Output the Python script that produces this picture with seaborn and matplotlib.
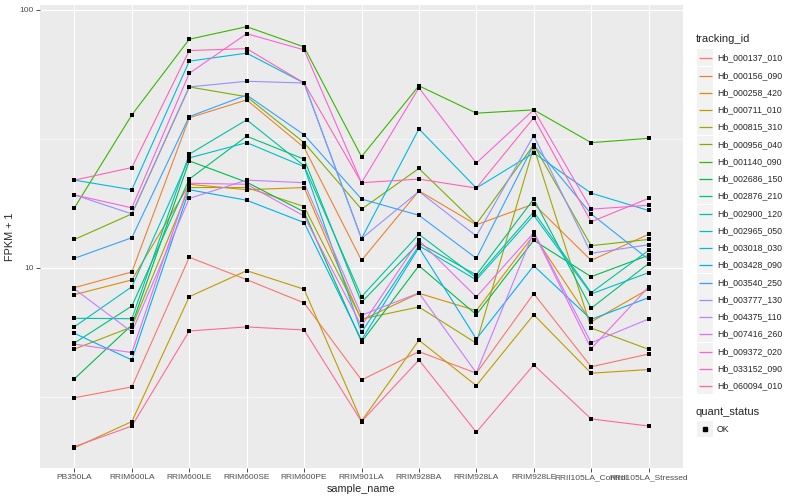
"""Per-gene FPKM profiles across Hevea samples, ggplot-like styling."""

import matplotlib

matplotlib.use("Agg")

import matplotlib.pyplot as plt
import numpy as np
import pandas as pd
import seaborn as sns
from matplotlib.lines import Line2D
from matplotlib.patches import Rectangle

samples = [
    "PB350LA", "RRIM600LA", "RRIM600LE", "RRIM600SE", "RRIM600PE", "RRIM901LA",
    "RRIM928BA", "RRIM928LA", "RRIM928LE", "RRII105LA_Control", "RRII105LA_Stressed",
]

tracking_ids = [
    "Hb_000137_010", "Hb_000156_090", "Hb_000258_420", "Hb_000711_010",
    "Hb_000815_310", "Hb_000956_040", "Hb_001140_090", "Hb_002686_150",
    "Hb_002876_210", "Hb_002900_120", "Hb_002965_050", "Hb_003018_030",
    "Hb_003428_090", "Hb_003540_250", "Hb_003777_130", "Hb_004375_110",
    "Hb_007416_260", "Hb_009372_020", "Hb_033152_090", "Hb_060094_010",
]

# FPKM + 1, one list per gene, in sample order
hb_000137_010 = [3.14, 3.46, 11.0, 9.01, 7.32, 3.68, 4.74, 3.91, 7.95, 4.14, 4.64]
hb_000156_090 = [8.39, 9.65, 38.2, 44.8, 29.3, 10.7, 19.9, 14.7, 17.7, 10.7, 13.5]
hb_000258_420 = [7.88, 8.99, 21.1, 20.1, 20.5, 6.27, 7.98, 6.83, 13.4, 6.18, 8.29]
hb_000711_010 = [2.01, 2.54, 7.74, 9.76, 8.27, 2.55, 5.25, 3.50, 6.59, 3.91, 4.04]
hb_000815_310 = [4.85, 5.91, 20.5, 20.5, 17.3, 6.34, 7.06, 5.11, 29.4, 5.85, 4.84]
hb_000956_040 = [12.9, 16.2, 50.3, 46.1, 30.6, 16.9, 24.3, 14.8, 30.0, 12.2, 12.9]
hb_001140_090 = [17.1, 39.2, 77.0, 86.1, 71.9, 27.0, 50.8, 39.8, 41.0, 30.6, 31.8]
hb_002686_150 = [3.72, 6.01, 26.0, 21.5, 16.5, 5.17, 10.2, 6.59, 12.8, 9.25, 11.2]
hb_002876_210 = [5.12, 7.12, 22.1, 32.4, 26.4, 7.36, 12.5, 9.40, 18.5, 6.98, 10.4]
hb_002900_120 = [6.38, 6.36, 27.6, 37.5, 24.9, 7.74, 13.5, 9.17, 16.5, 8.02, 11.7]
hb_002965_050 = [5.92, 8.46, 26.7, 30.6, 24.7, 5.63, 12.2, 8.99, 16.0, 7.93, 9.59]
hb_003018_030 = [21.9, 20.1, 63.3, 68.0, 52.1, 13.0, 34.6, 20.4, 27.9, 19.5, 16.7]
hb_003428_090 = [5.58, 4.40, 20.1, 18.3, 15.0, 5.26, 12.0, 5.31, 10.2, 6.32, 7.67]
hb_003540_250 = [10.9, 13.1, 38.6, 46.8, 32.8, 18.5, 16.0, 10.9, 30.0, 16.2, 10.8]
hb_003777_130 = [19.2, 16.2, 50.3, 52.9, 52.1, 13.0, 19.8, 13.3, 32.6, 11.4, 12.3]
hb_004375_110 = [8.29, 5.65, 18.6, 21.9, 21.4, 6.56, 8.00, 3.92, 13.8, 5.13, 6.34]
hb_007416_260 = [5.07, 4.70, 21.3, 21.1, 15.9, 5.96, 12.8, 7.72, 13.7, 4.87, 8.44]
hb_009372_020 = [19.2, 17.1, 56.8, 80.9, 70.0, 21.4, 49.9, 25.5, 41.0, 16.9, 17.5]
hb_033152_090 = [21.9, 24.5, 69.6, 70.8, 52.1, 21.4, 22.1, 20.4, 38.2, 15.1, 18.6]
hb_060094_010 = [2.03, 2.44, 5.70, 5.91, 5.75, 2.54, 4.40, 2.31, 4.21, 2.60, 2.44]

series = [
    hb_000137_010, hb_000156_090, hb_000258_420, hb_000711_010, hb_000815_310,
    hb_000956_040, hb_001140_090, hb_002686_150, hb_002876_210, hb_002900_120,
    hb_002965_050, hb_003018_030, hb_003428_090, hb_003540_250, hb_003777_130,
    hb_004375_110, hb_007416_260, hb_009372_020, hb_033152_090, hb_060094_010,
]


def hcl_hex(h, c=100.0, l=65.0):
    """polarLUV -> sRGB hex, like R's hcl() used by scales::hue_pal."""
    xn, yn, zn = 95.047, 100.0, 108.883
    u = c * np.cos(np.radians(h))
    v = c * np.sin(np.radians(h))
    y = yn * ((l + 16) / 116) ** 3
    den = xn + 15 * yn + 3 * zn
    un, vn = 4 * xn / den, 9 * yn / den
    up = u / (13 * l) + un
    vp = v / (13 * l) + vn
    x = 9.0 * y * up / (4 * vp)
    z = -x / 3 - 5 * y + 3 * y / vp
    m = np.array([[3.240479, -1.537150, -0.498535],
                  [-0.969256, 1.875992, 0.041556],
                  [0.055648, -0.204043, 1.057311]])
    rgb = m @ (np.array([x, y, z]) / 100.0)
    rgb = np.where(rgb > 0.0031308, 1.055 * np.clip(rgb, 0, None) ** (1 / 2.4) - 0.055, 12.92 * rgb)
    rgb = np.clip(rgb, 0, 1)
    return "#%02X%02X%02X" % tuple(int(round(ch * 255)) for ch in rgb)


n = len(tracking_ids)
palette = {tid: hcl_hex(15 + 360 * i / n) for i, tid in enumerate(tracking_ids)}

rows = []
for tid, values in zip(tracking_ids, series):
    for sample, value in zip(samples, values):
        rows.append({"tracking_id": tid, "sample_name": sample, "fpkm": value,
                     "quant_status": "OK"})
frame = pd.DataFrame(rows)
frame["x"] = frame["sample_name"].map({s: i for i, s in enumerate(samples)})

sns.set_theme(style="white")
plt.rcParams["font.family"] = ["Liberation Sans", "DejaVu Sans"]

W, H = 800, 500
figure = plt.figure(figsize=(W / 100, H / 100), dpi=100)
p_left, p_right, p_top, p_bottom = 40, 683, 5, 468
axis = figure.add_axes([p_left / W, 1 - p_bottom / H, (p_right - p_left) / W,
                        (p_bottom - p_top) / H])
axis.set_facecolor("#EBEBEB")
for spine in axis.spines.values():
    spine.set_visible(False)

axis.set_yscale("log")
axis.set_xlim(-0.6, len(samples) - 0.4)
axis.set_ylim(1.678, 104.5)

# ggplot-style grid
for yv in (10 ** 0.5, 10 ** 1.5):
    axis.axhline(yv, color="white", linewidth=0.4, zorder=0)
for yv in (10, 100):
    axis.axhline(yv, color="white", linewidth=0.8, zorder=0)
for xi in range(len(samples)):
    axis.axvline(xi, color="white", linewidth=0.8, zorder=0)

sns.lineplot(data=frame, x="x", y="fpkm", hue="tracking_id", palette=palette,
             hue_order=tracking_ids, linewidth=0.8, legend=False, sort=False,
             estimator=None, ax=axis, zorder=2)
sns.scatterplot(data=frame, x="x", y="fpkm", color="black", marker="s", s=10,
                linewidth=0, legend=False, ax=axis, zorder=3)

axis.set_xticks(range(len(samples)))
axis.set_xticklabels(samples)
axis.set_yticks([10, 100])
axis.set_yticklabels(["10", "100"])
axis.yaxis.set_minor_locator(matplotlib.ticker.NullLocator())
axis.tick_params(axis="both", which="major", length=3, width=0.6, color="#333333",
                 labelsize=6.0, labelcolor="#4D4D4D", pad=1.5, direction="out")
axis.tick_params(axis="x", bottom=True)
axis.tick_params(axis="y", left=True)
axis.set_xlabel("sample_name", fontsize=7.8, labelpad=2)
axis.set_ylabel("FPKM + 1", fontsize=7.8, labelpad=3)


def fx(px):
    return px / W


def fy(py):
    return 1 - py / H


# legend: tracking_id
figure.text(fx(696), fy(39), "tracking_id", fontsize=8, va="center", ha="left")
row_step = 17.26
for i, tid in enumerate(tracking_ids):
    cy = round(57.3 + row_step * i) + 0.5
    figure.add_artist(Rectangle((fx(697), fy(cy + 8.2)), 16 / W, 16.4 / H,
                                transform=figure.transFigure, facecolor="#F2F2F2",
                                edgecolor="none"))
    figure.add_artist(Line2D([fx(698.5), fx(711.5)], [fy(cy), fy(cy)],
                             transform=figure.transFigure, color=palette[tid],
                             linewidth=0.9, solid_capstyle="butt"))
    figure.text(fx(717), fy(cy), tid, fontsize=6.3, va="center", ha="left")

# legend: quant_status
figure.text(fx(696), fy(412), "quant_status", fontsize=8, va="center", ha="left")
figure.add_artist(Rectangle((fx(697), fy(437)), 16 / W, 16.4 / H,
                            transform=figure.transFigure, facecolor="#F2F2F2",
                            edgecolor="none"))
figure.add_artist(Line2D([fx(705)], [fy(429)], transform=figure.transFigure,
                         marker="s", markersize=3, color="black", linestyle="none"))
figure.text(fx(717), fy(429), "OK", fontsize=6.3, va="center", ha="left")

figure.savefig("out.png", dpi=100)
plt.close(figure)
